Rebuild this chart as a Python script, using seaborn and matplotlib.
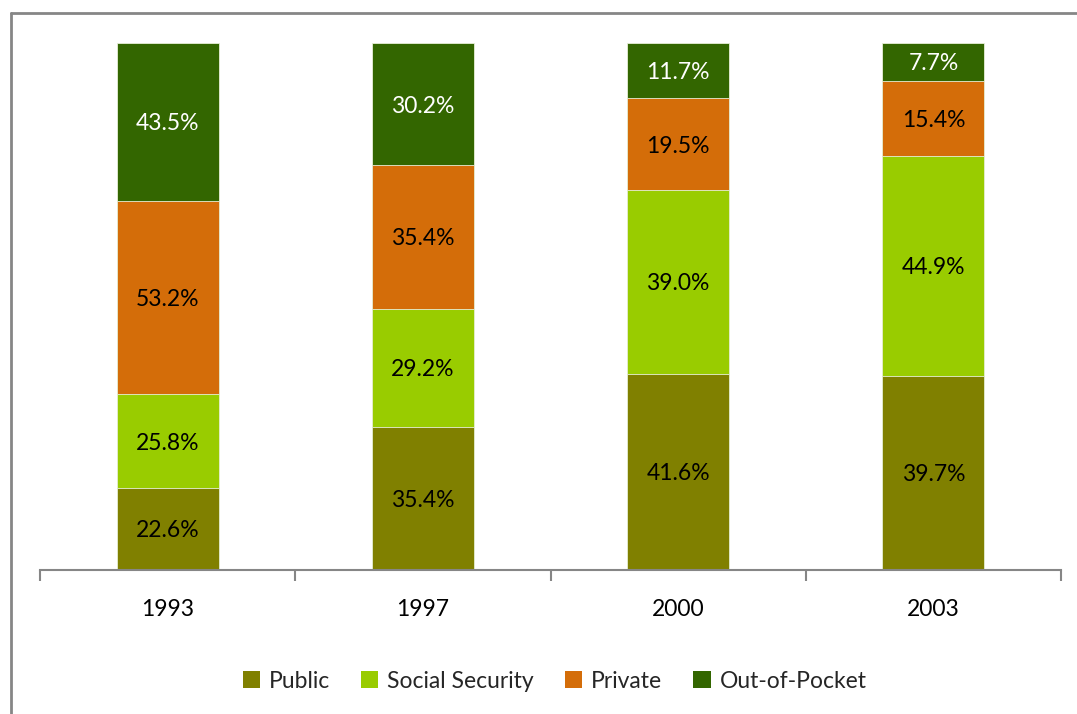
import matplotlib
matplotlib.use("Agg")
import matplotlib.pyplot as plt
import seaborn as sns
import numpy as np
import pandas as pd
from matplotlib.patches import Patch
from matplotlib.lines import Line2D

years = ["1993", "1997", "2000", "2003"]
series = ["Public", "Social Security", "Private", "Out-of-Pocket"]
public = [22.6, 35.4, 41.6, 39.7]
social_security = [25.8, 29.2, 39.0, 44.9]
private = [53.2, 35.4, 19.5, 15.4]
out_of_pocket = [43.5, 30.2, 11.7, 7.7]
colors = ["#808000", "#99CC00", "#D46D09", "#336600"]
label_colors = ["black", "black", "black", "white"]

sns.set_theme(style="white")
plt.rcParams["font.family"] = ["Lato", "DejaVu Sans"]

vals = np.array([public, social_security, private, out_of_pocket])
totals = vals.sum(axis=0)
shares = vals / totals * 100
cum = np.cumsum(shares, axis=0)

fig = plt.figure(figsize=(10.77, 7.14), dpi=100)
ax = fig.add_axes([40 / 1077, 1 - 570 / 714, (1061 - 40) / 1077, (570 - 43) / 714])

for i in range(len(series) - 1, -1, -1):
    df = pd.DataFrame({"year": years, "val": cum[i]})
    sns.barplot(data=df, x="year", y="val", order=years, color=colors[i],
                width=0.4, saturation=1, ax=ax, edgecolor="#e8f0d8", linewidth=0.6)

for i in range(len(series)):
    for j in range(len(years)):
        yc = cum[i, j] - shares[i, j] / 2
        ax.text(j, yc, f"{vals[i, j]:.1f}%", ha="center", va="center_baseline",
                fontsize=16.5, color=label_colors[i])

ax.set_xlim(-0.5, 3.5)
ax.set_ylim(0, 100)
ax.set_xlabel("")
ax.set_ylabel("")
ax.set_yticks([])
for s in ["top", "right", "left"]:
    ax.spines[s].set_visible(False)
ax.spines["bottom"].set_color("#868686")
ax.spines["bottom"].set_linewidth(1.5)
ax.set_xticks(range(len(years)))
ax.set_xticklabels(years, fontsize=16.5, color="black")
ax.set_xticks([-0.5, 0.5, 1.5, 2.5, 3.5], minor=True)
ax.tick_params(axis="x", which="major", length=0, pad=21)
ax.tick_params(axis="x", which="minor", length=8, width=1.5, color="#868686", bottom=True)

handles = [Patch(facecolor=c, edgecolor="none") for c in colors]
fig.legend(handles, series, loc="center", bbox_to_anchor=(0.515, 0.046), ncol=4,
           frameon=False, fontsize=16.5, handlelength=0.75, handleheight=0.75,
           handletextpad=0.4, columnspacing=1.35)

# chart area border
fig.add_artist(Line2D([11 / 1077, 11 / 1077], [0, 1 - 13 / 714], transform=fig.transFigure,
                      color="#868686", linewidth=2))
fig.add_artist(Line2D([11 / 1077, 1], [1 - 13 / 714, 1 - 13 / 714], transform=fig.transFigure,
                      color="#868686", linewidth=2))

fig.savefig("out.png", dpi=100)
